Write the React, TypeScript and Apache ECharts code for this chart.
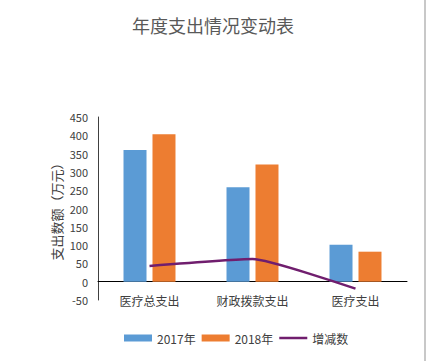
import React, { useEffect, useRef } from "react";
import * as echarts from "echarts";

const categories = ["医疗总支出", "财政拨款支出", "医疗支出"];
const values2017 = [360, 258, 101];
const values2018 = [403, 320, 82];
const changeValues = [43, 62, -19];
const yTicks = { min: -50, max: 450, interval: 50 };

export default function App() {
  const ref = useRef<HTMLDivElement>(null);
  useEffect(() => {
    document.body.style.margin = "0";
    const chart = echarts.init(ref.current!, null, { renderer: "svg" });
    const font = "'Noto Sans CJK SC', 'Microsoft YaHei', sans-serif";
    chart.setOption({
      animation: false,
      textStyle: { fontFamily: font },
      title: {
        text: "年度支出情况变动表",
        left: "center",
        top: 11,
        textStyle: { fontSize: 18, fontWeight: "normal", color: "#595959", fontFamily: font },
      },
      grid: { left: 98, right: 19, top: 117, bottom: 61 },
      legend: {
        left: 119,
        top: 327,
        itemWidth: 28,
        itemHeight: 7,
        itemGap: 6,
        symbolKeepAspect: true,
        textStyle: { fontSize: 12, color: "#404040", fontFamily: font },
        data: [
          { name: "2017年", icon: "rect" },
          { name: "2018年", icon: "rect" },
          { name: "增减数", icon: "path://M0,0h28v2.5h-28z", itemStyle: { color: "#701E6E" } },
        ],
      },
      xAxis: {
        type: "category",
        data: categories,
        axisLine: { show: true, onZero: true, lineStyle: { color: "#000", width: 1 } },
        axisTick: { show: false },
        axisLabel: { fontSize: 12, color: "#404040", margin: -6, fontFamily: font },
      },
      yAxis: {
        type: "value",
        min: yTicks.min,
        max: yTicks.max,
        interval: yTicks.interval,
        name: "支出数额（万元）",
        nameLocation: "middle",
        nameGap: 35,
        nameMoveOverlap: false,
        nameTextStyle: { fontSize: 13, color: "#404040", fontFamily: font },
        axisLine: { show: true, lineStyle: { color: "#404040", width: 1 } },
        axisTick: { show: false },
        splitLine: { show: false },
        axisLabel: { fontSize: 11, color: "#404040", margin: 10, fontFamily: font },
      },
      series: [
        {
          name: "2017年",
          type: "bar",
          data: values2017,
          barWidth: 23,
          barGap: "26%",
          itemStyle: { color: "#5B9BD5" },
        },
        {
          name: "2018年",
          type: "bar",
          data: values2018,
          barWidth: 23,
          itemStyle: { color: "#ED7D31" },
        },
        {
          name: "增减数",
          type: "line",
          data: changeValues,
          smooth: 0.15,
          symbol: "none",
          lineStyle: { color: "#701E6E", width: 2.5 },
          itemStyle: { color: "#701E6E" },
          z: 5,
        },
      ],
      graphic: [
        {
          type: "line",
          shape: { x1: 425, y1: 0, x2: 425, y2: 361 },
          style: { stroke: "#C8C8C8", lineWidth: 2 },
        },
      ],
    });
    return () => chart.dispose();
  }, []);
  return <div ref={ref} style={{ width: 426, height: 361 }} />;
}
